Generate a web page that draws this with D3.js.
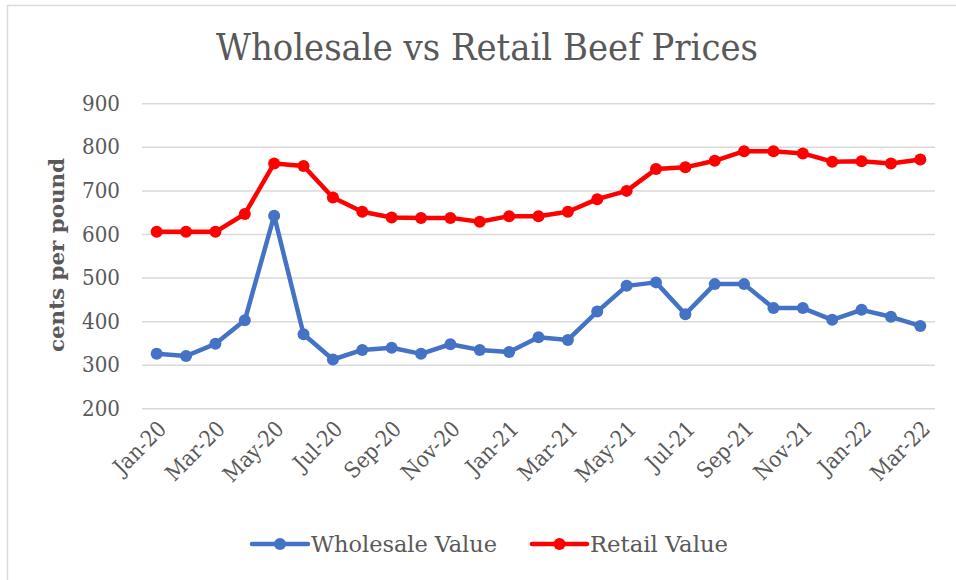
<!DOCTYPE html>
<html>
<head>
<meta charset="utf-8">
<script src="https://cdn.jsdelivr.net/npm/d3@7"></script>
<style>
  html, body { margin: 0; padding: 0; background: #fff; }
  svg { display: block; }
  text { font-family: "DejaVu Serif Condensed", "DejaVu Serif", serif; fill: #595959; }
</style>
</head>
<body>
<svg id="chart" width="956" height="580"></svg>
<script>
const months = ["Jan-20","Feb-20","Mar-20","Apr-20","May-20","Jun-20","Jul-20","Aug-20","Sep-20","Oct-20","Nov-20","Dec-20",
  "Jan-21","Feb-21","Mar-21","Apr-21","May-21","Jun-21","Jul-21","Aug-21","Sep-21","Oct-21","Nov-21","Dec-21",
  "Jan-22","Feb-22","Mar-22"];
const wholesale = [325,320,348,402,642,370,312,334,339,325,347,334,329,363,357,422,481,489,416,485,485,430,430,403,426,410,389];
const retail = [605,605,605,646,762,756,684,651,638,637,637,628,641,641,651,680,699,749,753,768,790,790,785,766,767,762,771];
const yTicks = [200,300,400,500,600,700,800,900];
const seriesNames = ["Wholesale Value","Retail Value"];
const seriesColors = ["#4472C4","#FF0000"];

const svg = d3.select("#chart");
const plotL = 142, plotR = 935, plotT = 103.3, plotB = 408.3;
const FONT = '"DejaVu Serif Condensed","DejaVu Serif",serif';

// chart border
svg.append("rect").attr("x",7.5).attr("y",5.5).attr("width",960).attr("height",590)
  .attr("fill","#fff").attr("stroke","#d9d9d9").attr("stroke-width",1.5);

const x = d3.scaleBand().domain(months).range([plotL,plotR]);
const y = d3.scaleLinear().domain([200,900]).range([plotB,plotT]);

// gridlines + y tick labels
const yAxis = d3.axisLeft(y).tickValues(yTicks).tickSize(-(plotR-plotL)).tickPadding(22);
const gy = svg.append("g").attr("transform",`translate(${plotL},0)`).call(yAxis);
gy.select(".domain").remove();
gy.selectAll(".tick line").attr("stroke","#d9d9d9").attr("stroke-width",1.5);
gy.selectAll(".tick text").attr("font-size",22).style("font-family",FONT).attr("fill","#595959")
  .attr("textLength",38).attr("lengthAdjust","spacingAndGlyphs");

// x axis labels
const xLabels = months.filter((m,i)=> i%2===0);
const xAxis = d3.axisBottom(x).tickValues(xLabels).tickSize(0).tickPadding(0);
const gx = svg.append("g").attr("transform",`translate(0,${plotB})`).call(xAxis);
gx.select(".domain").remove();
gx.selectAll(".tick text")
  .attr("font-size",22)
  .style("font-family",FONT)
  .attr("fill","#595959")
  .attr("text-anchor","end")
  .attr("dy",0)
  .attr("transform","translate(11,22) rotate(-45)");

// lines + markers
const series = [wholesale, retail];
series.forEach((vals,si)=>{
  const line = d3.line().x((d,i)=>x(months[i])+x.bandwidth()/2).y(d=>y(d));
  svg.append("path").datum(vals).attr("d",line).attr("fill","none")
    .attr("stroke",seriesColors[si]).attr("stroke-width",4.5).attr("stroke-linejoin","round").attr("stroke-linecap","round");
  svg.append("g").selectAll("circle").data(vals).join("circle")
    .attr("cx",(d,i)=>x(months[i])+x.bandwidth()/2).attr("cy",d=>y(d)).attr("r",6)
    .attr("fill",seriesColors[si]);
});

// title
svg.append("text").attr("x",487).attr("y",60).attr("text-anchor","middle")
  .attr("font-size",38).attr("textLength",542).attr("lengthAdjust","spacingAndGlyphs")
  .text("Wholesale vs Retail Beef Prices");

// y axis title
svg.append("text").attr("transform","translate(64,255) rotate(-90)").attr("text-anchor","middle")
  .attr("font-size",20).attr("font-weight","bold").attr("textLength",194).attr("lengthAdjust","spacingAndGlyphs")
  .text("cents per pound");

// legend
const legendItems = [
  {name: seriesNames[0], color: seriesColors[0], x1: 252, x2: 308, tx: 311, tl: 186},
  {name: seriesNames[1], color: seriesColors[1], x1: 532, x2: 587, tx: 590, tl: 138}
];
const ly = 544;
legendItems.forEach(it=>{
  svg.append("line").attr("x1",it.x1).attr("x2",it.x2).attr("y1",ly).attr("y2",ly)
    .attr("stroke",it.color).attr("stroke-width",4.5).attr("stroke-linecap","round");
  svg.append("circle").attr("cx",(it.x1+it.x2)/2).attr("cy",ly).attr("r",6).attr("fill",it.color);
  svg.append("text").attr("x",it.tx).attr("y",ly+8).attr("font-size",22)
    .attr("textLength",it.tl).attr("lengthAdjust","spacingAndGlyphs").text(it.name);
});
</script>
</body>
</html>
